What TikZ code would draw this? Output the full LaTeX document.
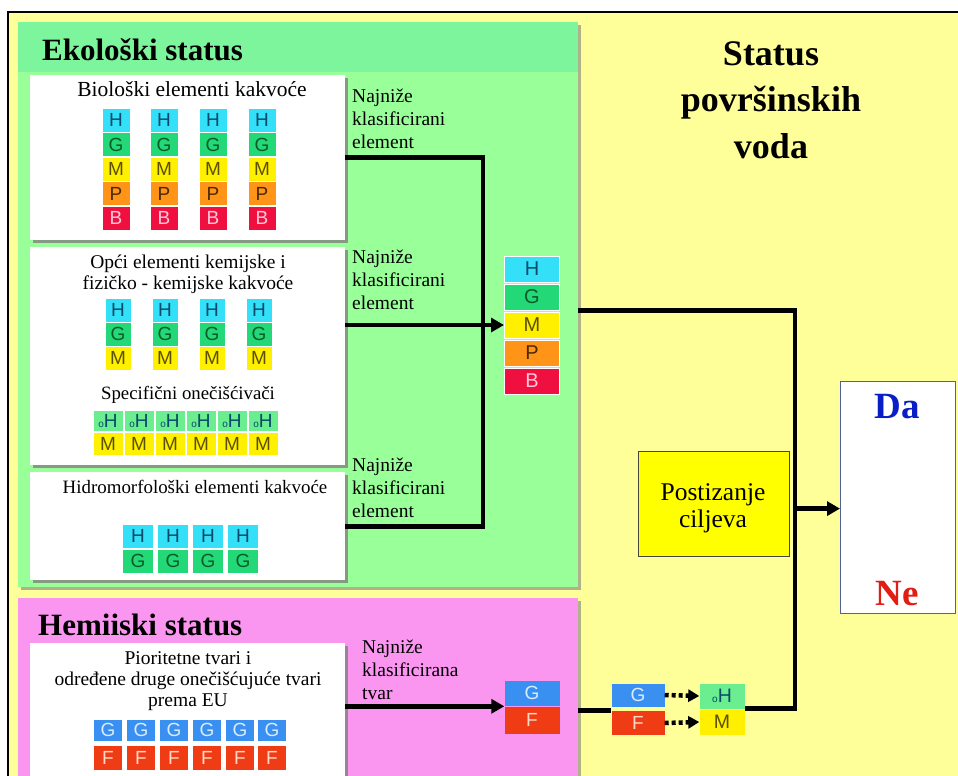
\documentclass[tikz,border=0pt]{standalone}
\usepackage{fontspec}
\setmainfont{Liberation Serif}
\newfontfamily\cellfont{Liberation Sans}
\usetikzlibrary{arrows.meta,shadows}
\definecolor{bgyellow}{HTML}{FFFF99}
\definecolor{ekogreen}{HTML}{99FF99}
\definecolor{ekohead}{HTML}{7DF59C}
\definecolor{hempink}{HTML}{FA96F0}
\definecolor{cH}{HTML}{33E0F8}
\definecolor{cG}{HTML}{22D877}
\definecolor{cM}{HTML}{FFF000}
\definecolor{cP}{HTML}{FF9419}
\definecolor{cB}{HTML}{F01040}
\definecolor{cGb}{HTML}{3A90F0}
\definecolor{cF}{HTML}{F03C14}
\definecolor{coH}{HTML}{6AEE90}
\definecolor{tH}{HTML}{0A4A6A}
\definecolor{tG}{HTML}{0B5A2A}
\definecolor{tM}{HTML}{5A5000}
\definecolor{tP}{HTML}{4A2A00}
\definecolor{tB}{HTML}{FFC8D8}
\definecolor{tGb}{HTML}{D8ECFF}
\definecolor{tF}{HTML}{FFD8C8}
\definecolor{daneborder}{HTML}{5060A0}
\begin{document}
\begin{tikzpicture}[x=1pt,y=-1pt,
  wbox/.style={fill=white, inner sep=0, anchor=north west,
    drop shadow={shadow xshift=3pt, shadow yshift=-3pt, fill=gray, opacity=0.8}},
  panel/.style={inner sep=0, anchor=north west,
    drop shadow={shadow xshift=3pt, shadow yshift=-3pt, fill=gray, opacity=0.6}},
  body/.style={font=\fontsize{19.5}{21}\selectfont, inner sep=0, align=center, anchor=base},
  lbl/.style={font=\fontsize{19.5}{23}\selectfont, inner sep=0, align=left, anchor=base west},
  head/.style={font=\bfseries\fontsize{31}{31}\selectfont, inner sep=0, anchor=base west},
  cell/.style={inner sep=0, font=\cellfont\fontsize{19}{19}\selectfont, minimum width=24, minimum height=22},
  cellH/.style={cell, fill=cH, text=tH},
  cellG/.style={cell, fill=cG, text=tG},
  cellM/.style={cell, fill=cM, text=tM},
  cellP/.style={cell, fill=cP, text=tP},
  cellB/.style={cell, fill=cB, text=tB},
  cellGb/.style={cell, fill=cGb, text=tGb},
  cellF/.style={cell, fill=cF, text=tF},
  celloH/.style={cell, fill=coH, text=tH},
  thickline/.style={line width=4.8pt},
  thickarrow/.style={line width=4.8pt, -{Triangle[length=13pt,width=14pt]}},
  dotarrow/.style={line width=4.5pt, dash pattern=on 4pt off 3pt, -{Triangle[length=11pt,width=12pt]}}
]
\useasboundingbox (0,0) rectangle (958,776);
\clip (0,0) rectangle (958,776);
\fill[white] (0,0) rectangle (958,776);
\fill[bgyellow] (8,12) rectangle (960,780);
\draw[line width=2.5pt] (8,780) -- (8,12) -- (960,12);

% ---------------- Ekoloski panel
\node[panel, fill=ekogreen, minimum width=560, minimum height=565] (eko) at (18,22) {};
\fill[ekohead] (18,22) rectangle (578,72);
\node[head] (ekot) at (42,60) {Ekološki status};

\node[wbox, minimum width=315, minimum height=165] (bio) at (30,75) {};
\node[wbox, minimum width=315, minimum height=218] (opci) at (30,247) {};
\node[wbox, minimum width=315, minimum height=108] (hidro) at (30,472) {};

\node[body, font=\fontsize{21.5}{23}\selectfont] (biot) at (192,96) {Biološki elementi kakvoće};
\foreach \x [count=\i] in {116,164,213,262}{
  \node[cellH, minimum width=27, minimum height=23] (bH\i) at (\x,120) {H};
  \node[cellG, minimum width=27, minimum height=23] (bG\i) at (\x,144.5) {G};
  \node[cellM, minimum width=27, minimum height=23] (bM\i) at (\x,169) {M};
  \node[cellP, minimum width=27, minimum height=23] (bP\i) at (\x,193.5) {P};
  \node[cellB, minimum width=27, minimum height=23] (bB\i) at (\x,218) {B};
}

\node[body] (opcit) at (188,289) {Opći elementi kemijske i\\fizičko - kemijske kakvoće};
\foreach \x [count=\i] in {118,165,212,259}{
  \node[cellH, minimum width=25, minimum height=23] (oH\i) at (\x,310) {H};
  \node[cellG, minimum width=25, minimum height=23] (oG\i) at (\x,334) {G};
  \node[cellM, minimum width=25, minimum height=23] (oM\i) at (\x,358) {M};
}
\node[body, font=\fontsize{18.8}{21}\selectfont] (spect) at (188,399) {Specifični onečišćivači};
\foreach \x [count=\i] in {108,139,170,201,232,263}{
  \node[celloH, minimum width=29, minimum height=20] (sH\i) at (\x,421) {{\fontsize{10}{10}\selectfont o}H};
  \node[cellM, minimum width=29, minimum height=22] (sM\i) at (\x,444) {M};
}

\node[body, font=\fontsize{18.9}{21}\selectfont] (hidrot) at (195,493) {Hidromorfološki elementi kakvoće};
\foreach \x [count=\i] in {138,173,208,243}{
  \node[cellH, minimum width=30, minimum height=23] (hH\i) at (\x,536) {H};
  \node[cellG, minimum width=30, minimum height=23] (hG\i) at (\x,561) {G};
}

\node[lbl] (l1) at (352,148) {Najniže\\klasificirani\\element};
\node[lbl] (l2) at (352,309) {Najniže\\klasificirani\\element};
\node[lbl] (l3) at (352,517) {Najniže\\klasificirani\\element};

% big stack
\begin{scope}[every node/.style={draw=white, line width=1pt}]
\node[cellH, minimum width=55, minimum height=26, font=\cellfont\fontsize{20}{20}\selectfont] (sH) at (532,269) {H};
\node[cellG, minimum width=55, minimum height=26, font=\cellfont\fontsize{20}{20}\selectfont] (sG) at (532,297) {G};
\node[cellM, minimum width=55, minimum height=26, font=\cellfont\fontsize{20}{20}\selectfont] (sM) at (532,325) {M};
\node[cellP, minimum width=55, minimum height=26, font=\cellfont\fontsize{20}{20}\selectfont] (sP) at (532,353) {P};
\node[cellB, minimum width=55, minimum height=26, font=\cellfont\fontsize{20}{20}\selectfont] (sB) at (532,381) {B};
\end{scope}

\coordinate (jx) at (483,0);
\draw[thickline] (bio.east) -| (jx |- hidro.east) -- (hidro.east);
\draw[thickarrow] (opci.east |- sM.west) -- (sM.west);

% ---------------- Hemijski panel
\node[panel, fill=hempink, minimum width=560, minimum height=200] (hem) at (18,598) {};
\node[head] (hemt) at (38,635) {Hemiiski status};
\node[wbox, minimum width=315, minimum height=150] (prio) at (30,643) {};
\node[body] (priot) at (188,706) {Pioritetne tvari i\\određene druge onečišćujuće tvari\\prema EU};
\foreach \x [count=\i] in {108,141,174,207,240,272}{
  \node[cellGb, minimum width=28, minimum height=21] (pG\i) at (\x,730) {G};
  \node[cellF, minimum width=28, minimum height=24] (pF\i) at (\x,758) {F};
}
\node[lbl] (l4) at (362,699) {Najniže\\klasificirana\\tvar};

\node[cellGb, minimum width=55, minimum height=25] (cG) at (532,693) {G};
\node[cellF, minimum width=55, minimum height=27] (cF) at (532,720) {F};
\draw[thickarrow] (prio.east |- cF.north west) -- (cF.north west);

% ---------------- right side
\node[font=\bfseries\fontsize{36}{46.5}\selectfont, align=center, inner sep=0, anchor=base] (title) at (771,158) {Status\\površinskih\\voda};

\node[cellGb, minimum width=53, minimum height=23] (smG) at (638,695) {G};
\node[cellF, minimum width=53, minimum height=24] (smF) at (638,723) {F};
\node[celloH, minimum width=45, minimum height=25, font=\cellfont\fontsize{19.5}{19.5}\selectfont] (smoH) at (722,696) {{\fontsize{10}{10}\selectfont o}H};
\node[cellM, minimum width=45, minimum height=25, font=\cellfont\fontsize{19.5}{19.5}\selectfont] (smM) at (722,722) {M};

\draw[thickline] (hem.east |- smF.north west) -- (smF.north west);
\draw[dotarrow] (smG.east) -- (smoH.west);
\draw[dotarrow] (smF.east) -- (smM.west);

\node[draw=daneborder, line width=1.2pt, fill=white, minimum width=115, minimum height=232, inner sep=0, anchor=north west] (dane) at (840,381) {};
\node[font=\bfseries\fontsize{37}{37}\selectfont, text={rgb,255:red,10;green,30;blue,200}, inner sep=0, anchor=base] (da) at (897,418) {Da};
\node[font=\bfseries\fontsize{37}{37}\selectfont, text={rgb,255:red,225;green,30;blue,20}, inner sep=0, anchor=base] (ne) at (897,605) {Ne};

\node[draw={rgb,255:red,70;green,70;blue,70}, line width=1.2pt, fill={rgb,255:red,255;green,255;blue,0}, minimum width=151, minimum height=105, inner sep=0, anchor=north west] (post) at (638,451) {};
\node[font=\fontsize{25.5}{27}\selectfont, align=center, inner sep=0, anchor=base] (postt) at (713,527) {Postizanje\\ciljeva};

\coordinate (rx) at (795,0);
\draw[thickline] (eko.east |- sG.south) -| (rx |- smoH.south east) -- (smoH.south east);
\draw[thickarrow] (rx |- dane.west) ++(0,11) -- ([yshift=-11pt]dane.west);
\end{tikzpicture}
\end{document}
